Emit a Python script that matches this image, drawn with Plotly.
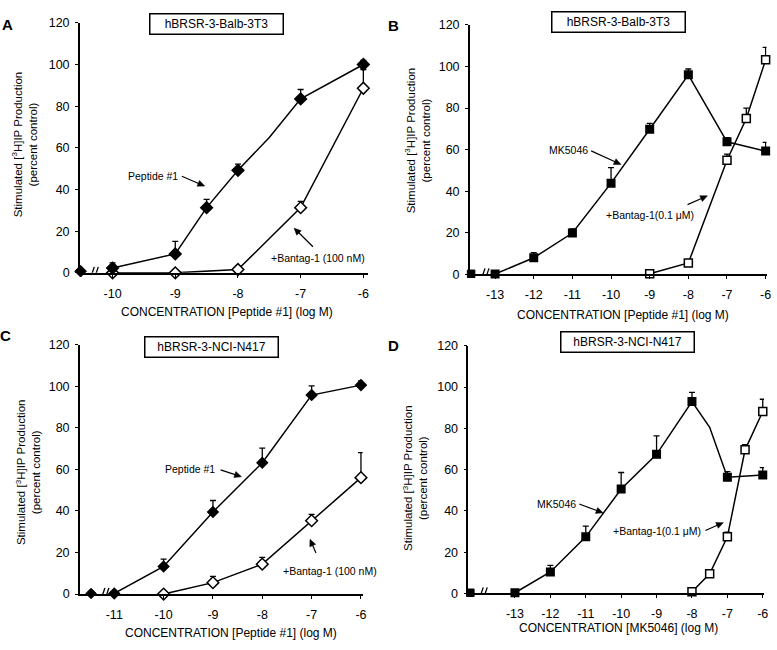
import math
import plotly.graph_objects as go

W, H = 777, 650
FONT = "Liberation Sans, Arial, sans-serif"

# ---------------- data ----------------
# Panel A : hBRSR-3-Balb-3T3, Peptide #1
a_ctrl_x = [-10.51]
a_ctrl_y = [0.8]
a_pep_x = [-10, -9, -8.5, -8, -7.5, -7, -6]
a_pep_y = [2.3, 9.1, 31.3, 49.2, 65, 83.5, 100]
a_pep_e = [2.5, 6, 4, 3, 0, 4.5, 2]
a_pep_show = [1, 1, 1, 1, 0, 1, 1]   # 0 = line vertex without a symbol
a_ban_x = [-10, -9, -8, -7, -6]
a_ban_y = [0, 0, 1.6, 31.3, 88.6]
a_ban_e = [0, 0, 1.5, 3, 9]
a_ticks = [-10, -9, -8, -7, -6]

# Panel B : hBRSR-3-Balb-3T3, MK5046
b_ctrl_x = [-13.62]
b_ctrl_y = [0.3]
b_mk_x = [-13, -12, -11, -10, -9, -8, -7, -6]
b_mk_y = [0.2, 8.0, 19.9, 43.9, 69.8, 96.0, 63.8, 59.3]
b_mk_e = [0, 2.5, 2, 7.5, 2.8, 2.8, 2, 4.2]
b_ban_x = [-9, -8, -7, -6.5, -6]
b_ban_y = [0.3, 5.5, 54.9, 75, 103.2]
b_ban_e = [0, 0.8, 3, 5, 6]
b_ticks = [-13, -12, -11, -10, -9, -8, -7, -6]

# Panel C : hBRSR-3-NCI-N417, Peptide #1
c_ctrl_x = [-11.47]
c_ctrl_y = [0.3]
c_pep_x = [-11, -10, -9, -8, -7, -6]
c_pep_y = [0.3, 13.3, 39.5, 63.2, 95.7, 100.5]
c_pep_e = [0, 3.5, 5.5, 7, 4.4, 2]
c_ban_x = [-10, -9, -8, -7, -6]
c_ban_y = [0, 5.5, 14.4, 35.3, 56]
c_ban_e = [0, 3, 3.3, 3, 12]
c_ticks = [-11, -10, -9, -8, -7, -6]

# Panel D : hBRSR-3-NCI-N417, MK5046
d_ctrl_x = [-14.26]
d_ctrl_y = [0.3]
d_mk_x = [-13, -12, -11, -10, -9, -8, -7.5, -7, -6]
d_mk_y = [0.3, 10.4, 27.4, 50.6, 67.4, 93, 80.5, 56.3, 57.4]
d_mk_e = [0, 3.2, 5.2, 8, 9, 4.4, 0, 2.7, 3.6]
d_mk_show = [1, 1, 1, 1, 1, 1, 0, 1, 1]
d_ban_x = [-8, -7.5, -7, -6.5, -6]
d_ban_y = [0.8, 9.5, 27.4, 69.6, 88.2]
d_ban_e = [0, 0, 2.3, 2.5, 5.9]
d_ticks = [-13, -12, -11, -10, -9, -8, -7, -6]

y_ticks = [0, 20, 40, 60, 80, 100, 120]

# ---------------- layout geometry (pixels) ----------------
panels = {
    "A": dict(ax="", left=80.5, right=370, ref=-10, refpx=113.3, dec=63.1, y0=271.7, yt=16.2,
              ticks=a_ticks, brk=-10.26, xtitle="CONCENTRATION [Peptide #1] (log M)",
              box="hBRSR-3-Balb-3T3", boxc=(218, 17), let=(8, 18), xt=(228, 312),
              yt_x=(25.5, 140)),
    "B": dict(ax="2", left=473, right=771.5, ref=-13, refpx=498.3, dec=38.9, y0=273.3, yt=18.3,
              ticks=b_ticks, brk=-13.21, xtitle="CONCENTRATION [Peptide #1] (log M)",
              box="hBRSR-3-Balb-3T3", boxc=(623, 15), let=(396, 19), xt=(627, 315),
              yt_x=(420, 136)),
    "C": dict(ax="3", left=80.5, right=365, ref=-11, refpx=115, dec=49.66, y0=600, yt=345,
              ticks=c_ticks, brk=-11.15, xtitle="CONCENTRATION [Peptide #1] (log M)",
              box="hBRSR-3-NCI-N417", boxc=(213, 347), let=(6, 336), xt=(232, 640),
              yt_x=(28.5, 475)),
    "D": dict(ax="4", left=471.5, right=769, ref=-13, refpx=518.3, dec=35.63, y0=599.3, yt=346.3,
              ticks=d_ticks, brk=-13.84, xtitle="CONCENTRATION [MK5046] (log M)",
              box="hBRSR-3-NCI-N417", boxc=(632, 342), let=(396, 346), xt=(623, 635),
              yt_x=(418, 481)),
}

def px(x):
    return x / W

def py(y):
    return 1 - y / H

fig = go.Figure()

def err(vals):
    return dict(type="data", array=vals, arrayminus=[0] * len(vals), symmetric=False,
                color="black", thickness=1.3, width=3)

def add_series(axn, x, y, e, symbol, size, filled, show=None):
    if show is None:
        show = [1] * len(x)
    fig.add_trace(go.Scatter(
        x=x, y=y, mode="lines", xaxis="x" + axn, yaxis="y" + axn,
        line=dict(color="black", width=1.5), showlegend=False, hoverinfo="skip"))
    mx = [v for v, s in zip(x, show) if s]
    my = [v for v, s in zip(y, show) if s]
    me = [v for v, s in zip(e, show) if s]
    fig.add_trace(go.Scatter(
        x=mx, y=my, mode="markers", xaxis="x" + axn, yaxis="y" + axn, cliponaxis=False,
        marker=dict(symbol=symbol, size=size, opacity=1,
                    color="black" if filled else "white",
                    line=dict(color="black", width=1.5)),
        error_y=err(me), showlegend=False, hoverinfo="x+y"))

def add_ctrl(axn, x, y, symbol, size):
    fig.add_trace(go.Scatter(
        x=x, y=y, mode="markers", xaxis="x" + axn, yaxis="y" + axn, cliponaxis=False,
        marker=dict(symbol=symbol, size=size, color="black", opacity=1,
                    line=dict(color="black", width=1)),
        showlegend=False))

# Panel A
add_series("", a_ban_x, a_ban_y, a_ban_e, "diamond", 9, False)
add_series("", a_pep_x, a_pep_y, a_pep_e, "diamond", 9, True, a_pep_show)
add_ctrl("", a_ctrl_x, a_ctrl_y, "diamond", 9)
# Panel B
add_series("2", b_mk_x, b_mk_y, b_mk_e, "square", 7.5, True)
add_series("2", b_ban_x, b_ban_y, b_ban_e, "square", 8, False)
add_ctrl("2", b_ctrl_x, b_ctrl_y, "square", 7.5)
# Panel C
add_series("3", c_ban_x, c_ban_y, c_ban_e, "diamond", 9, False)
add_series("3", c_pep_x, c_pep_y, c_pep_e, "diamond", 8, True)
add_ctrl("3", c_ctrl_x, c_ctrl_y, "diamond", 8)
# Panel D
add_series("4", d_mk_x, d_mk_y, d_mk_e, "square", 7.5, True, d_mk_show)
add_series("4", d_ban_x, d_ban_y, d_ban_e, "square", 8, False)
add_ctrl("4", d_ctrl_x, d_ctrl_y, "square", 7.5)

annotations = []
shapes = []
layout = dict(width=W, height=H, margin=dict(l=0, r=0, t=0, b=0),
              paper_bgcolor="white", plot_bgcolor="white", showlegend=False,
              font=dict(family=FONT, color="black"))

tickfont = dict(family=FONT, size=12.5, color="black")

def ann(**kw):
    d = dict(xref="paper", yref="paper", xanchor="center", yanchor="middle", showarrow=False)
    d.update(kw)
    annotations.append(d)

for key, p in panels.items():
    n = p["ax"]
    xr = [p["ref"] + (p["left"] - p["refpx"]) / p["dec"],
          p["ref"] + (p["right"] - p["refpx"]) / p["dec"]]
    layout["xaxis" + n] = dict(
        domain=[px(p["left"]), px(p["right"])], range=xr, anchor="y" + n,
        tickmode="array", tickvals=p["ticks"], ticktext=[str(t) for t in p["ticks"]],
        showline=True, linecolor="black", linewidth=1.8, ticks="outside", ticklen=3,
        tickwidth=1.2, tickcolor="black", showgrid=False, zeroline=False, tickfont=tickfont,
        ticklabelstandoff=5, fixedrange=True)
    layout["yaxis" + n] = dict(
        domain=[py(p["y0"]), py(p["yt"])], range=[0, 120], anchor="x" + n,
        tickmode="array", tickvals=y_ticks, showline=True, linecolor="black", linewidth=1.8,
        ticks="outside", ticklen=3, tickwidth=1.2, tickcolor="black", showgrid=False,
        zeroline=False, tickfont=tickfont, ticklabelstandoff=3, fixedrange=True)
    ann(text=p["xtitle"], x=px(p["xt"][0]), y=py(p["xt"][1]),
        font=dict(size=12, family=FONT))
    ann(text="Stimulated [<sup>3</sup>H]IP Production<br>(percent control)",
        x=px(p["yt_x"][0]), y=py(p["yt_x"][1]), textangle=-90,
        font=dict(size=11.5, family=FONT))
    ann(text=p["box"], x=px(p["boxc"][0]), y=py(p["boxc"][1]),
        bordercolor="black", borderwidth=1.5, borderpad=2, width=128, height=15,
        bgcolor="white", font=dict(size=12, family=FONT))
    ann(text="<b>%s</b>" % key, x=px(p["let"][0]), y=py(p["let"][1]),
        font=dict(size=15, family=FONT))
    for dx in (-4, 0):
        shapes.append(dict(type="line", xref="x" + n, yref="y" + n,
                           xsizemode="pixel", ysizemode="pixel",
                           xanchor=p["brk"], yanchor=0,
                           x0=dx - 2, x1=dx + 2, y0=-6, y1=6,
                           line=dict(color="black", width=1.3)))

labels = [
    ("Peptide #1", 154, 173),
    ("+Bantag-1 (100 nM)", 320, 257),
    ("MK5046", 572, 146),
    ("+Bantag-1(0.1 μM)", 654, 213),
    ("Peptide #1", 191, 472),
    ("+Bantag-1 (100 nM)", 332, 576),
    ("MK5046", 560, 508),
    ("+Bantag-1(0.1 μM)", 661, 536),
]
for t, x, y in labels:
    ann(text=t, x=px(x), y=py(y), font=dict(size=10.5, family=FONT))

arrows = [  # tail -> head (pixels)
    ((183, 173), (206, 183)),
    ((315, 245), (296, 226)),
    ((595, 147), (625, 161)),
    ((692, 202), (712, 193)),
    ((222, 473), (243, 480)),
    ((318, 558), (312, 544)),
    ((583, 508), (607, 517)),
    ((710, 535), (728, 527)),
]
HEAD_L, HEAD_W = 7.0, 3.2
for (tx, ty), (hx, hy) in arrows:
    dx, dy = hx - tx, hy - ty
    L = math.hypot(dx, dy)
    ux, uy = dx / L, dy / L
    bx, by = hx - ux * HEAD_L, hy - uy * HEAD_L
    nx, ny = -uy, ux
    shapes.append(dict(type="line", xref="paper", yref="paper",
                       x0=px(tx), y0=py(ty), x1=px(bx + ux), y1=py(by + uy),
                       line=dict(color="black", width=1.2)))
    pts = [(hx, hy), (bx + nx * HEAD_W, by + ny * HEAD_W), (bx - nx * HEAD_W, by - ny * HEAD_W)]
    path = "M " + " L ".join("%.5f,%.5f" % (px(a), py(b)) for a, b in pts) + " Z"
    shapes.append(dict(type="path", xref="paper", yref="paper", path=path,
                       fillcolor="black", line=dict(color="black", width=0.5)))

layout["annotations"] = annotations
layout["shapes"] = shapes
fig.update_layout(**layout)
fig.write_html(
    "out.html",
    config={"displayModeBar": False},
    post_script=("var gd=document.getElementById('{plot_id}');"
                 "gd.style.position='fixed';gd.style.left='0px';gd.style.top='0px';"
                 "document.documentElement.style.margin='0';"
                 "document.documentElement.style.overflow='hidden';"
                 "document.body.style.margin='0';document.body.style.padding='0';"
                 "document.body.style.overflow='hidden';"))
